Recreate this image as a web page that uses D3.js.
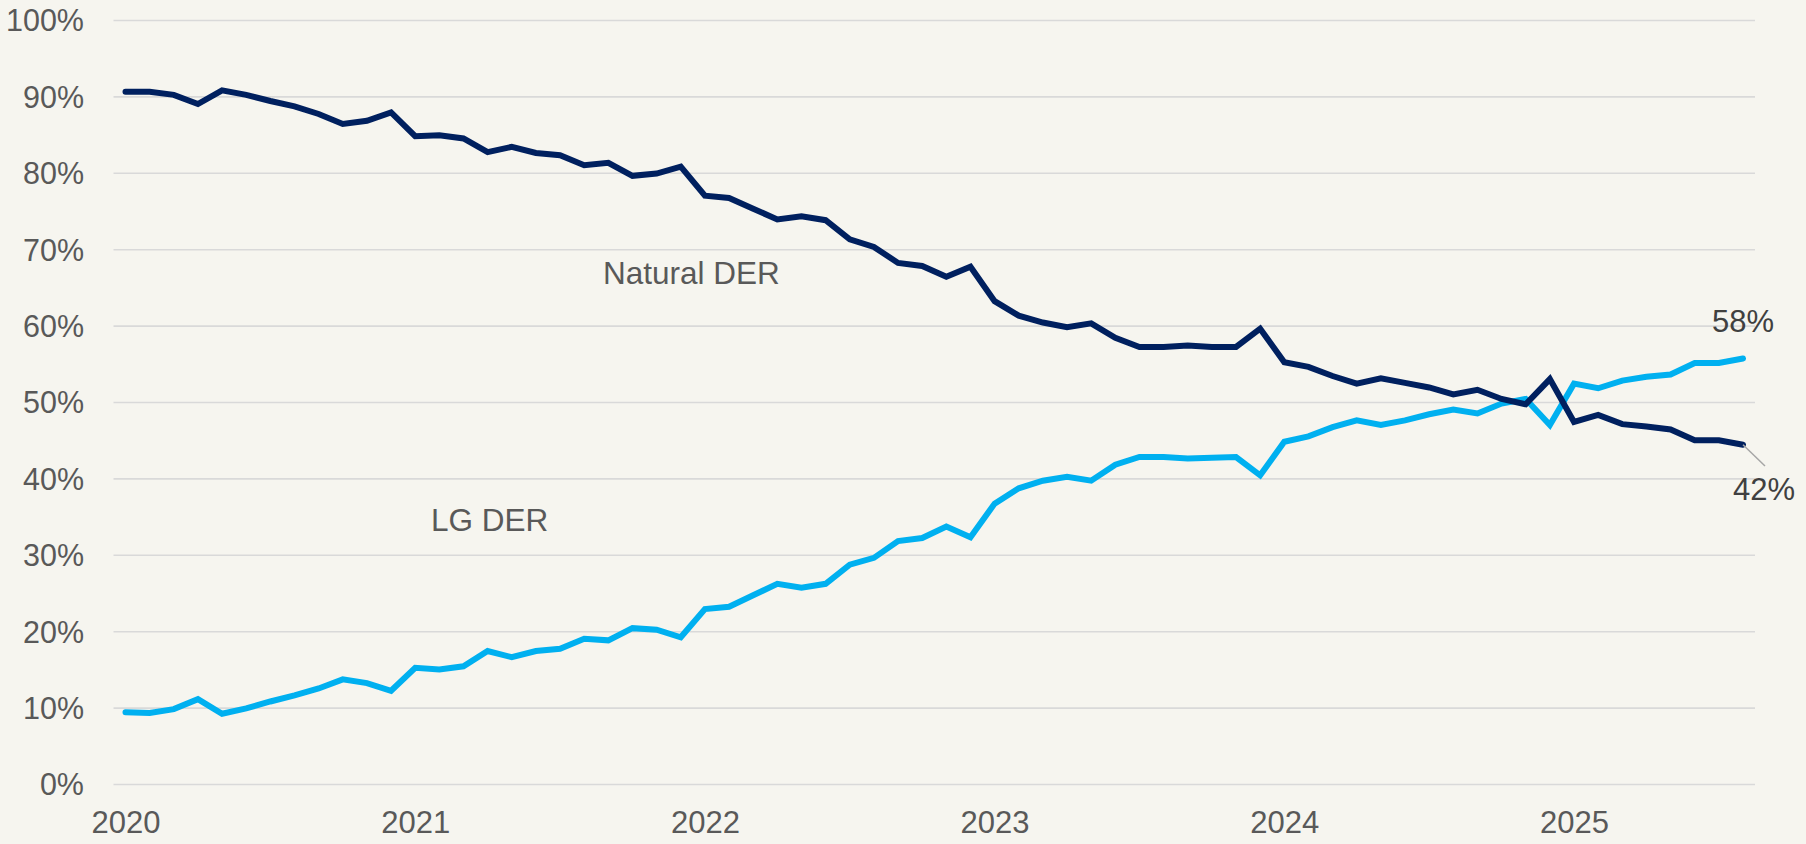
<!DOCTYPE html>
<html>
<head>
<meta charset="utf-8">
<script src="https://cdn.jsdelivr.net/npm/d3@7"></script>
<style>
  html, body { margin: 0; padding: 0; background: #F6F5EF; }
  svg { display: block; }
  text { font-family: "Liberation Sans", Arial, sans-serif; }
</style>
</head>
<body>
<svg id="chart" width="1806" height="844"></svg>
<script>
// Monthly data, Jan 2020 .. Aug 2025 (68 months)
const startYear = 2020;
const naturalDER = [
  90.6, 90.6, 90.2, 89.0, 90.8, 90.2, 89.4, 88.7, 87.7, 86.4, 86.8, 87.9,
  84.8, 84.9, 84.5, 82.7, 83.4, 82.6, 82.3, 81.0, 81.3, 79.6, 79.9, 80.8,
  77.0, 76.7, 75.3, 73.9, 74.3, 73.8, 71.3, 70.3, 68.2, 67.8, 66.4, 67.7,
  63.2, 61.3, 60.4, 59.8, 60.3, 58.4, 57.2, 57.2, 57.4, 57.2, 57.2, 59.6,
  55.2, 54.6, 53.4, 52.4, 53.1, 52.5, 51.9, 51.0, 51.6, 50.4, 49.7, 53.0,
  47.4, 48.3, 47.1, 46.8, 46.4, 45.0, 45.0, 44.4
];
const lgDER = [
  9.4, 9.3, 9.8, 11.1, 9.2, 9.9, 10.8, 11.6, 12.5, 13.7, 13.2, 12.2,
  15.2, 15.0, 15.4, 17.4, 16.6, 17.4, 17.7, 19.0, 18.8, 20.4, 20.2, 19.2,
  22.9, 23.2, 24.7, 26.2, 25.7, 26.2, 28.7, 29.6, 31.8, 32.2, 33.7, 32.3,
  36.7, 38.7, 39.7, 40.2, 39.7, 41.8, 42.8, 42.8, 42.6, 42.7, 42.8, 40.4,
  44.8, 45.5, 46.7, 47.6, 47.0, 47.6, 48.4, 49.0, 48.5, 49.8, 50.4, 47.0,
  52.4, 51.8, 52.8, 53.3, 53.6, 55.1, 55.1, 55.7
];
const yTicks = [0, 10, 20, 30, 40, 50, 60, 70, 80, 90, 100];
const yearLabels = ["2020", "2021", "2022", "2023", "2024", "2025"];
const seriesLabels = ["Natural DER", "LG DER"];
const endLabels = ["58%", "42%"];

const svg = d3.select("#chart");
const x = d3.scaleLinear().domain([0, naturalDER.length - 1]).range([125.5, 1743]);
const y = d3.scaleLinear().domain([0, 100]).range([784, 20]);

const gridLeft = 113.5, gridRight = 1755;
const textColor = "#595959";

// Gridlines + y labels
const yAxis = d3.axisLeft(y)
  .tickValues(yTicks)
  .tickSize(-(gridRight - gridLeft))
  .tickPadding(30)
  .tickFormat(d => d + "%");
const gy = svg.append("g").attr("transform", `translate(${gridLeft},0)`).call(yAxis);
gy.select(".domain").remove();
gy.selectAll(".tick line").attr("stroke", "#D9D9D9").attr("stroke-width", 1.6);
gy.selectAll(".tick text")
  .attr("fill", textColor)
  .attr("font-size", 30.5)
  .attr("font-family", "'Liberation Sans', Arial, sans-serif")
  .attr("x", 84 - gridLeft)
  .attr("dy", "0.36em");

// X axis labels (year starts)
const xAxis = d3.axisBottom(x)
  .tickValues(yearLabels.map((_, i) => i * 12))
  .tickSize(0)
  .tickFormat((d, i) => yearLabels[i]);
const gx = svg.append("g").attr("transform", `translate(0,784)`).call(xAxis);
gx.select(".domain").remove();
gx.selectAll(".tick text")
  .attr("fill", textColor)
  .attr("font-size", 31)
  .attr("font-family", "'Liberation Sans', Arial, sans-serif")
  .attr("y", 49)
  .attr("dy", 0);

// Lines
const line = d3.line().x((d, i) => x(i)).y(d => y(d));
svg.append("path")
  .datum(lgDER)
  .attr("fill", "none")
  .attr("stroke", "#00B0F0")
  .attr("stroke-width", 6)
  .attr("stroke-linecap", "round")
  .attr("d", line);
svg.append("path")
  .datum(naturalDER)
  .attr("fill", "none")
  .attr("stroke", "#00205F")
  .attr("stroke-width", 6)
  .attr("stroke-linecap", "round")
  .attr("d", line);

// Series annotations
svg.append("text")
  .attr("x", 603).attr("y", 284)
  .attr("fill", textColor).attr("font-size", 31.5)
  .text(seriesLabels[0]);
svg.append("text")
  .attr("x", 431).attr("y", 531)
  .attr("fill", textColor).attr("font-size", 31.5)
  .text(seriesLabels[1]);

// End labels
const last = naturalDER.length - 1;
svg.append("text")
  .attr("x", 1712).attr("y", 332)
  .attr("fill", "#404040").attr("font-size", 31)
  .text(endLabels[0]);
svg.append("line")
  .attr("x1", x(last)).attr("y1", y(naturalDER[last]))
  .attr("x2", 1765).attr("y2", 466)
  .attr("stroke", "#A6A6A6").attr("stroke-width", 1.5);
svg.append("text")
  .attr("x", 1733).attr("y", 500)
  .attr("fill", "#404040").attr("font-size", 31)
  .text(endLabels[1]);
</script>
</body>
</html>
